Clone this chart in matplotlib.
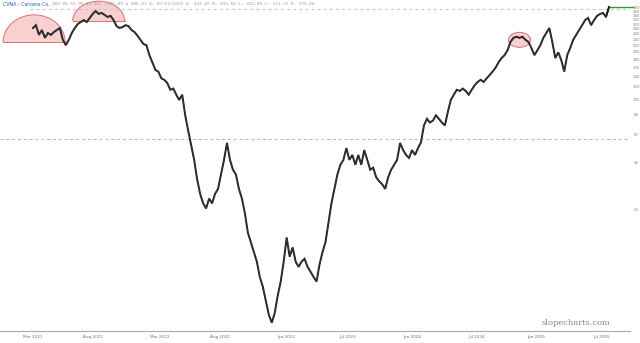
import numpy as np
import matplotlib
matplotlib.use("Agg")
import matplotlib.pyplot as plt
from matplotlib.patches import Ellipse
from matplotlib.transforms import blended_transform_factory, IdentityTransform

## CVNA price path (log scale), roughly 1.2 weeks per point
closes = [
    285, 297, 258, 277, 247, 265, 258, 269, 277, 285, 240, 222, 240, 265, 285, 302,
    311, 320, 311, 330, 350, 365, 350, 355, 345, 335, 340, 320, 293, 285, 289, 297,
    293, 277, 269, 255, 240, 226, 222, 192, 173, 155, 151, 137, 134, 128, 116, 118,
    108, 100, 108, 80, 64, 51.8, 41.8, 31.5, 25.5, 22.2, 20.6, 23.8, 22.2, 25.5,
    27.4, 33.8, 41.8, 53.5, 41.8, 36.2, 33.8, 27.4, 23.8, 19.2, 14.5, 12.6, 10.9,
    9.5, 7.6, 6.6, 5.4, 4.4, 3.9, 4.5, 5.8, 7.1, 9.5, 13.5, 10.2, 11.7, 9.5, 8.8,
    9.5, 9.9, 8.8, 8.2, 7.6, 7.1, 9.1, 10.9, 12.6, 16.7, 22.2, 27.4, 33.8, 38.9,
    41.8, 49.6, 41.8, 44.9, 38.9, 44.9, 38.9, 48.2, 41.8, 36.2, 37.3, 32.4, 30.6,
    29.3, 27.4, 32.4, 36.2, 38.9, 41.8, 53.5, 48.2, 44.9, 43.0, 48.2, 44.9, 49.6,
    54, 69, 76, 72, 74, 80, 76, 72, 69, 84, 100, 108, 116, 114, 118, 114, 108, 116,
    124, 130, 134, 130, 137, 144, 151, 160, 173, 184, 192, 206, 233, 247, 251, 247,
    251, 240, 233, 213, 192, 206, 222, 247, 265, 285, 233, 184, 200, 179, 151, 192,
    213, 240, 258, 277, 297, 320, 330, 297, 320, 340, 350, 355, 335, 387]

x_labels = ["Mar 2021", "Aug 2021", "Mar 2022", "Aug 2022", "Jan 2023",
            "Jul 2023", "Jan 2024", "Jul 2024", "Jan 2025", "Jul 2025"]
x_label_idx = [0, 20, 42.5, 62.5, 85, 105.5, 127, 148.5, 168.5, 190.5]

y_ticks = [20, 40, 60, 80, 100, 120, 140, 160, 180, 200, 220, 240, 260, 280,
           300, 320, 340, 360, 380]

ath_level = 376      # gray dashed line
pink_level = 57      # pink dashed line
last_price = 387     # green marker line

# highlight domes: (left index, base price, width px, height px)
domes = [(-10, 233, 62, 27), (13.3, 315, 52, 20)]
# ring: (centre index, centre price, width px, height px)
ring = (163, 240, 22, 15)

header_name = "CVNA - Carvana Co."
header_rest = ("389.00 53.90 13.86% 1326.89 a 306.81 D: 07/21/2025 O: 332.47 "
               "H: 333.50 L: 322.00 C: 331.75 V: 375.66")

## figure
fig = plt.figure(figsize=(6.4, 3.43), dpi=100)
ax = fig.add_axes([0, 12 / 343, 630 / 640, 331 / 343])

n = len(closes)
x = np.arange(n)
scale = (609 - 33) / (n - 1)   # pixels per point
ax.set_xlim(-33 / scale, (n - 1) + (630 - 609) / scale)
ax.set_yscale("log")
ax.set_ylim(3.46, 428.6)

ax.plot(x, closes, color="#1a1a1a", lw=1.4, solid_joinstyle="miter", zorder=3)
ax.plot(x, closes, color="#555555", lw=0.5, alpha=0.6, zorder=3)

ax.axhline(ath_level, xmin=30 / 630, xmax=1, color="#c4c4c4", lw=0.8, ls=(0, (2.5, 3)))
ax.axhline(pink_level, color="#e39ad0", lw=0.7, ls=(0, (3, 3)), clip_on=False)
ax.plot([n - 1, n + 7], [last_price, last_price], color="#2e9a3a", lw=1.0,
        clip_on=False, zorder=3)
ax.plot([n - 2, n - 1], [closes[-2], last_price], color="#1a1a1a", lw=1.0, zorder=3)

# highlight domes (half ellipses) and ring drawn in pixel space, under the price line
fig.canvas.draw()
pix = IdentityTransform()
for (i, p, w, h) in domes:
    cx, cy = ax.transData.transform((i, p))
    half = Ellipse((cx + w / 2, cy), w, 2 * h, transform=pix,
                   facecolor="#f9d0d0", edgecolor="#d97070", lw=0.7, zorder=1)
    ax.add_artist(half)
    half.set_clip_path(plt.Rectangle((cx - 2, cy), w + 4, h + 2, transform=pix))
    ax.add_artist(plt.Line2D([cx, cx + w], [cy, cy], transform=pix,
                             color="#d97070", lw=0.7, zorder=1))
cx, cy = ax.transData.transform((ring[0], ring[1]))
ax.add_artist(Ellipse((cx, cy), ring[2], ring[3], transform=pix,
                      facecolor="#f9d0d0", edgecolor="#d97070", lw=0.7, zorder=1))

# axes cosmetics
for s in ["top", "left", "right"]:
    ax.spines[s].set_visible(False)
ax.spines["bottom"].set_color("#aaaaaa")
ax.spines["bottom"].set_linewidth(0.8)
ax.set_yticks([])
ax.yaxis.set_minor_locator(matplotlib.ticker.NullLocator())
ax.set_xticks(x_label_idx)
ax.set_xticklabels(x_labels, fontsize=3, color="#6b6b9a")
ax.tick_params(axis="x", length=0, pad=3)

trans = blended_transform_factory(fig.transFigure, ax.transData)
for t in y_ticks:
    ax.text(636 / 640, t, str(t), transform=trans, fontsize=2.8, color="#888888",
            ha="center", va="center", clip_on=False)

fig.text(3 / 640, 1 - 4 / 343, header_name, fontsize=3.4, color="#3355cc",
         va="center", ha="left")
fig.text(52 / 640, 1 - 4 / 343, header_rest, fontsize=3.2, color="#9a9a9a",
         va="center", ha="left", family="DejaVu Sans Mono")
fig.text(610 / 640, 1 - 323 / 343, "slopecharts.com", fontsize=6, color="#888888",
         family="DejaVu Serif", ha="right", va="center")

fig.savefig("out.png", dpi=100)
